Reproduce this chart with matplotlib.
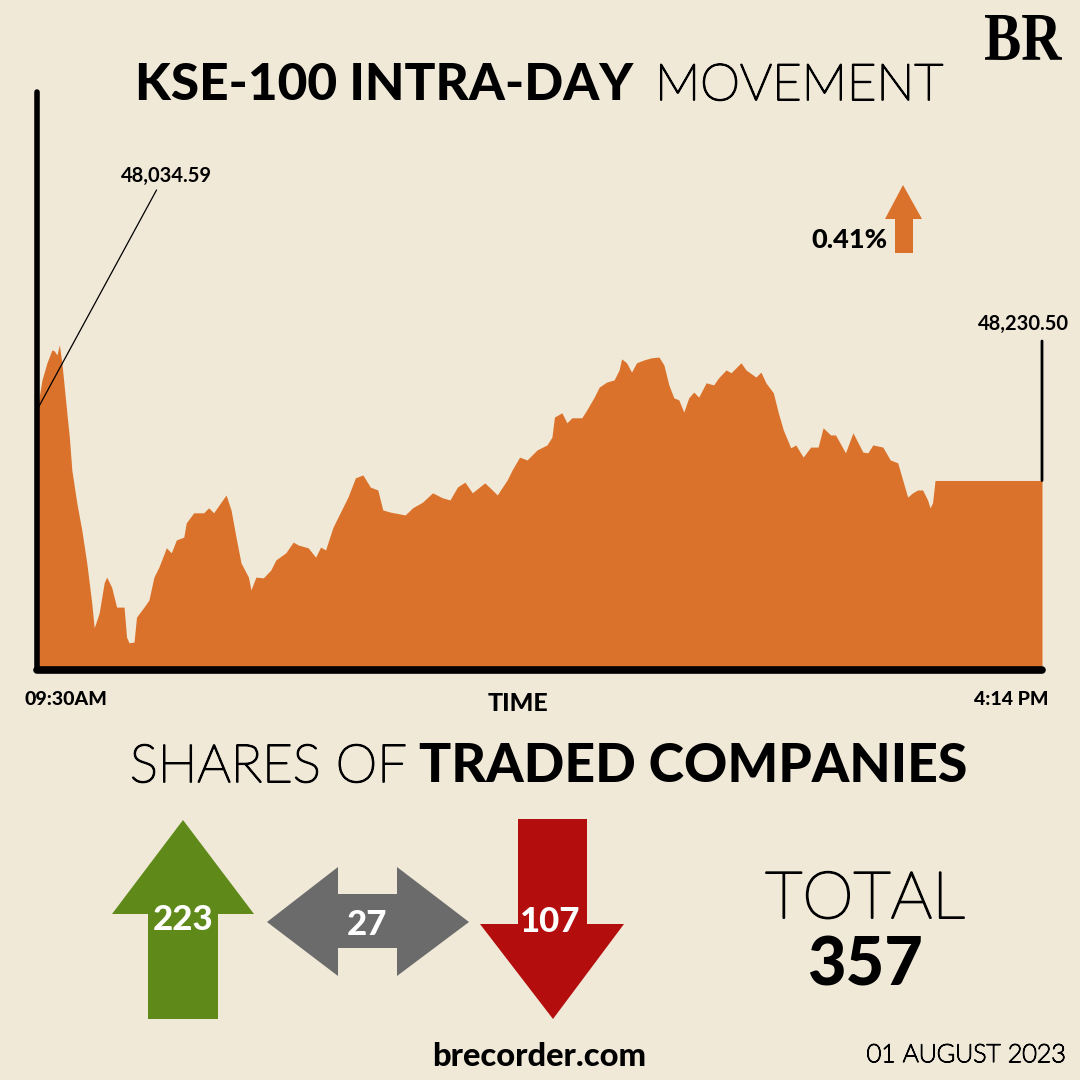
import matplotlib
matplotlib.use("Agg")
from matplotlib import pyplot as plt
from matplotlib.patches import Polygon, PathPatch
from matplotlib.textpath import TextPath
from matplotlib.font_manager import FontProperties
from matplotlib.transforms import Affine2D
import matplotlib.patheffects as pe

# intraday KSE-100 values (minutes after 09:30, index points)
minutes = [0, 2, 4, 6, 7, 8, 9, 10, 12, 13, 14, 16, 18, 20, 22, 23, 25, 27, 28, 30,
           32, 35, 36, 37, 39, 40, 43, 45, 47, 49, 52, 54, 56, 59, 60, 63, 67, 69, 71, 74,
           76, 78, 80, 82, 85, 86, 88, 91, 94, 96, 100, 103, 105, 109, 112, 114, 116, 119, 122, 125,
           128, 131, 134, 137, 139, 142, 148, 151, 155, 159, 163, 166, 169, 172, 175, 180, 183, 185, 189, 191,
           194, 197, 201, 205, 207, 208, 211, 213, 215, 219, 221, 224, 226, 229, 232, 234, 235, 237, 239, 241,
           244, 247, 250, 252, 254, 256, 258, 260, 262, 264, 266, 269, 272, 274, 277, 279, 283, 285, 289, 291,
           293, 296, 298, 300, 303, 305, 308, 311, 314, 316, 319, 321, 325, 328, 332, 334, 336, 340, 343, 346,
           348, 350, 352, 354, 356, 358, 359, 360, 361, 404]
values = [48428, 48512, 48560, 48596, 48593, 48582, 48610, 48560, 48420, 48352, 48260, 48168, 48092, 48000, 47888, 47818, 47860, 47944, 47960, 47932,
          47876, 47876, 47792, 47776, 47778, 47848, 47876, 47896, 47960, 47988, 48042, 48028, 48064, 48072, 48112, 48140, 48140, 48154, 48140, 48170,
          48190, 48148, 48072, 48000, 47960, 47924, 47960, 47958, 47980, 48008, 48028, 48058, 48050, 48042, 48016, 48044, 48036, 48100, 48142, 48184,
          48238, 48246, 48212, 48204, 48148, 48142, 48134, 48154, 48170, 48196, 48182, 48176, 48212, 48226, 48196, 48224, 48204, 48190, 48232, 48260,
          48296, 48288, 48316, 48330, 48352, 48408, 48420, 48392, 48406, 48406, 48428, 48464, 48492, 48506, 48512, 48540, 48571, 48560, 48534, 48560,
          48568, 48574, 48576, 48554, 48498, 48462, 48456, 48422, 48462, 48478, 48464, 48504, 48498, 48518, 48540, 48532, 48560, 48540, 48520, 48534,
          48504, 48476, 48420, 48372, 48322, 48330, 48296, 48324, 48324, 48378, 48358, 48358, 48308, 48364, 48310, 48308, 48330, 48324, 48288, 48280,
          48232, 48184, 48196, 48204, 48204, 48176, 48154, 48168, 48230.5, 48230.5]

prev_close_label = "48,034.59"
close_label = "48,230.50"
change_label = "0.41%"
time_labels = ["09:30AM", "4:14 PM"]

advanced = 223
unchanged = 27
declined = 107
total = 357
date_label = "01 AUGUST 2023"

bg = "#f0e9d8"
orange = "#db722b"
green = "#5f8a1a"
grey = "#6b6b6b"
red = "#b40d0d"
font = "Lato"


def thin(lw):
    # hairline Lato thickened a little so it reads like a light weight
    return [pe.withStroke(linewidth=lw, foreground="black")]


fig = plt.figure(figsize=(10.8, 10.8), dpi=100, facecolor=bg)

# main area chart, placed to match the pixel layout
ax = fig.add_axes([37/1080, 1 - 670/1080, (1042 - 37)/1080, (670 - 92)/1080])
ax.set_facecolor(bg)
ax.fill_between(minutes, values, 47700, color=orange, lw=0)
ax.set_xlim(0, 404)
ax.set_ylim(47700, 49318)
ax.set_xticks([])
ax.set_yticks([])
for s in ["top", "right"]:
    ax.spines[s].set_visible(False)
ax.spines["left"].set_linewidth(4)
ax.spines["bottom"].set_linewidth(5.5)
for s in ["left", "bottom"]:
    ax.spines[s].set_capstyle("round")
    ax.spines[s].set_color("black")

# overlay in pixel coordinates for text and icons
ov = fig.add_axes([0, 0, 1, 1])
ov.set_xlim(0, 1080)
ov.set_ylim(1080, 0)
ov.axis("off")

ov.text(633, 100, "KSE-100 INTRA-DAY", ha="right", va="baseline", fontsize=37,
        fontweight="black", family=font)
ov.text(655, 100, "MOVEMENT", ha="left", va="baseline", fontsize=36.5,
        fontweight="light", family=font, path_effects=thin(1.3))

# BR logo, condensed serif
tp = TextPath((0, 0), "BR", size=60, prop=FontProperties(family="Liberation Serif", weight="bold"))
ext = tp.get_extents()
sx = 77 / ext.width
sy = 45 / ext.height
tr = Affine2D().translate(-ext.x0, -ext.y0).scale(sx, -sy).translate(985, 60) + ov.transData
ov.add_patch(PathPatch(tp, color="black", lw=0, transform=tr))

# annotations
ax.annotate(prev_close_label, xy=(minutes[0], values[0]), xytext=(166, 186),
            textcoords=ov.transData, ha="center", va="bottom", fontsize=14.5,
            fontweight="bold", family=font,
            arrowprops=dict(arrowstyle="-", lw=0.9, color="black", shrinkA=1, shrinkB=0,
                            relpos=(0.42, 0)))
ax.annotate("", xy=(minutes[-1], values[-1]), xytext=(1042, 341),
            textcoords=ov.transData,
            arrowprops=dict(arrowstyle="-", lw=2, color="black", shrinkA=0, shrinkB=0))
ov.text(1023, 330, close_label, ha="center", va="baseline", fontsize=14.5,
        fontweight="bold", family=font)

ov.text(887, 248, change_label, ha="right", va="baseline", fontsize=19.5,
        fontweight="black", family=font)
ov.add_patch(Polygon([(895, 253), (913, 253), (913, 219), (922, 219), (903, 185),
                      (885, 219), (895, 219)], closed=True, color=orange, lw=0))

ov.text(66, 705, time_labels[0], ha="center", va="baseline", fontsize=14,
        fontweight="black", family=font)
ov.text(1011, 705, time_labels[1], ha="center", va="baseline", fontsize=14,
        fontweight="black", family=font)
ov.text(518, 711, "TIME", ha="center", va="baseline", fontsize=18,
        fontweight="black", family=font)

ov.text(407, 782, "SHARES OF", ha="right", va="baseline", fontsize=38,
        fontweight="light", family=font, path_effects=thin(1.3))
ov.text(967, 782, "TRADED COMPANIES", ha="right", va="baseline", fontsize=38.5,
        fontweight="black", family=font)

# icons for advanced / unchanged / declined
ov.add_patch(Polygon([(148, 1019), (218, 1019), (218, 914), (254, 914), (183, 820),
                      (112, 914), (148, 914)], closed=True, color=green, lw=0))
ov.add_patch(Polygon([(267, 922), (338, 867), (338, 894), (397, 894), (397, 867),
                      (469, 922), (397, 976), (397, 948), (338, 948), (338, 976)],
                     closed=True, color=grey, lw=0))
ov.add_patch(Polygon([(518, 819), (587, 819), (587, 924), (624, 924), (553, 1019),
                      (480, 924), (518, 924)], closed=True, color=red, lw=0))

ov.text(183, 930, str(advanced), ha="center", va="baseline", fontsize=25,
        fontweight="black", color="white", family=font)
ov.text(367, 935, str(unchanged), ha="center", va="baseline", fontsize=25,
        fontweight="black", color="white", family=font)
ov.text(550, 932, str(declined), ha="center", va="baseline", fontsize=25,
        fontweight="black", color="white", family=font)

ov.text(865, 918, "TOTAL", ha="center", va="baseline", fontsize=47,
        fontweight="light", family=font, path_effects=thin(1.4))
ov.text(865, 985, str(total), ha="center", va="baseline", fontsize=48,
        fontweight="black", family=font)

ov.text(539, 1066, "brecorder.com", ha="center", va="baseline", fontsize=23.5,
        fontweight="black", family=font)
ov.text(966, 1062, date_label, ha="center", va="baseline", fontsize=18,
        fontweight="light", family=font, path_effects=thin(1.0))

fig.savefig("out.png", dpi=100, facecolor=bg)
